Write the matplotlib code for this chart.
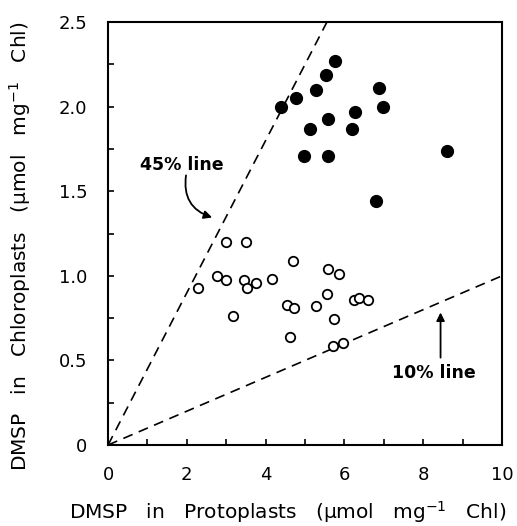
import matplotlib
matplotlib.use('Agg')
import matplotlib.pyplot as plt
from matplotlib.ticker import MultipleLocator, FixedFormatter, FixedLocator

plt.rcParams['font.family'] = ['DejaVu Sans']

# chloroplast vs protoplast DMSP, filled and open symbols
filled_x = [4.38, 4.78, 5.27, 5.52, 5.76, 6.88, 6.98, 6.28, 5.59, 5.12, 6.18, 4.98, 5.59, 6.79, 8.61]
filled_y = [2.00, 2.05, 2.10, 2.19, 2.27, 2.11, 2.00, 1.97, 1.93, 1.87, 1.87, 1.71, 1.71, 1.44, 1.74]

open_x = [2.99, 3.49, 4.69, 5.59, 5.86, 2.77, 2.99, 3.45, 3.75, 3.53, 4.15, 2.29,
          5.57, 4.54, 4.71, 5.27, 6.24, 6.37, 6.61, 3.16, 5.73, 4.62, 5.72, 5.97]
open_y = [1.20, 1.20, 1.09, 1.04, 1.01, 1.00, 0.975, 0.975, 0.96, 0.93, 0.98, 0.93,
          0.89, 0.83, 0.81, 0.82, 0.86, 0.87, 0.855, 0.76, 0.745, 0.64, 0.585, 0.605]

line_x = [0, 10]
ratio_45 = 0.45
ratio_10 = 0.10

fig = plt.figure(figsize=(5.17, 5.26), dpi=100)
ax = fig.add_axes([0.209, 0.154, 0.762, 0.804])

ax.plot(line_x, [ratio_45 * v for v in line_x], color='black', lw=1.2, dashes=(6, 4))
ax.plot(line_x, [ratio_10 * v for v in line_x], color='black', lw=1.2, dashes=(6, 4))

ax.plot(filled_x, filled_y, 'o', color='black', ms=8.5, ls='none')
ax.plot(open_x, open_y, 'o', mfc='white', mec='black', mew=1.3, ms=6.8, ls='none')

ax.annotate('', xy=(2.71, 1.34), xytext=(1.99, 1.61),
            arrowprops=dict(arrowstyle='-|>', color='black', lw=1.3,
                            connectionstyle='arc3,rad=0.45', mutation_scale=12))
ax.text(1.87, 1.655, '45% line', ha='center', va='center', fontsize=12.5, fontweight='bold')

ax.annotate('', xy=(8.44, 0.80), xytext=(8.44, 0.50),
            arrowprops=dict(arrowstyle='-|>', color='black', lw=1.3, mutation_scale=12))
ax.text(8.27, 0.425, '10% line', ha='center', va='center', fontsize=12.5, fontweight='bold')

ax.set_xlim(0, 10)
ax.set_ylim(0, 2.5)
ax.xaxis.set_major_locator(MultipleLocator(2))
ax.xaxis.set_minor_locator(MultipleLocator(1))
ax.yaxis.set_major_locator(FixedLocator([0, 0.5, 1.0, 1.5, 2.0, 2.5]))
ax.yaxis.set_major_formatter(FixedFormatter(['0', '0.5', '1.0', '1.5', '2.0', '2.5']))
ax.yaxis.set_minor_locator(MultipleLocator(0.25))
ax.tick_params(which='both', direction='in', width=1.2, labelsize=13)
ax.tick_params(which='major', length=4, pad=15)
ax.tick_params(which='minor', length=4)
for s in ax.spines.values():
    s.set_linewidth(1.5)

ax.set_xlabel('DMSP   in   Protoplasts   (\u03bcmol   mg$^{-1}$   Chl)', fontsize=14.5)
ax.set_ylabel('DMSP   in   Chloroplasts   (\u03bcmol   mg$^{-1}$   Chl)', fontsize=14.5)
ax.xaxis.set_label_coords(0.455, -0.128)
ax.yaxis.set_label_coords(-0.19, 0.47)

fig.savefig('out.png', dpi=100)
